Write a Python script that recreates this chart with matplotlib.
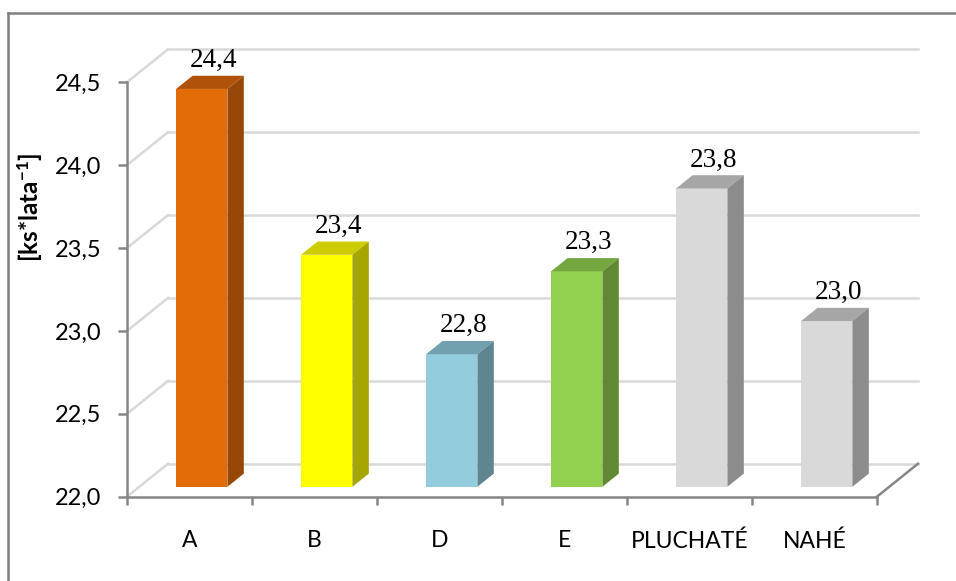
import matplotlib
matplotlib.use('Agg')
import matplotlib.pyplot as plt
from matplotlib.patches import Polygon
from matplotlib.lines import Line2D

plt.rcParams['font.family'] = ['Lato', 'DejaVu Sans']
plt.rcParams['mathtext.fontset'] = 'custom'
plt.rcParams['mathtext.bf'] = 'Lato:bold'
plt.rcParams['mathtext.rm'] = 'Lato'
plt.rcParams['mathtext.default'] = 'bf'

# data
categories = ['A', 'B', 'D', 'E', 'PLUCHATÉ', 'NAHÉ']
values = [24.4, 23.4, 22.8, 23.3, 23.8, 23.0]
front_colors = ['#E36C09', '#FFFF00', '#93CDDD', '#92D050', '#D9D9D9', '#D9D9D9']
top_colors = ['#B05209', '#CCCC00', '#71A0AE', '#74A73F', '#A6A6A6', '#A6A6A6']
side_colors = ['#984806', '#A6A600', '#5F8591', '#5F8A33', '#8C8C8C', '#8C8C8C']
y_ticks = [22.0, 22.5, 23.0, 23.5, 24.0, 24.5]
y_tick_labels = ['22,0', '22,5', '23,0', '23,5', '24,0', '24,5']
base = 22.0

# oblique "3D" depth, in data units (x: categories, y: value)
wall_dx, wall_dy = 0.3285, 0.199
bar_w = 0.41
front_dx, front_dy = 0.3 * wall_dx, 0.3 * wall_dy
depth_dx, depth_dy = 0.4 * wall_dx, 0.4 * wall_dy

grid_color = '#D9D9D9'
axis_color = '#868686'

fig = plt.figure(figsize=(9.56, 5.81), dpi=100)
ax = fig.add_axes([0.1328, 0.1451, 0.7845, 0.7133])
n = len(categories)
ax.set_xlim(-0.5, n - 0.5)
ax.set_ylim(base, 24.5)

# side wall and back wall gridlines
for t in y_ticks:
    ax.plot([-0.5, -0.5 + wall_dx], [t, t + wall_dy], color=grid_color,
            lw=1.8, clip_on=False, zorder=1)
    ax.plot([-0.5 + wall_dx, n - 0.5 + wall_dx], [t + wall_dy, t + wall_dy],
            color=grid_color, lw=1.8, clip_on=False, zorder=1)
# floor right edge
ax.plot([n - 0.5, n - 0.5 + wall_dx], [base, base + wall_dy], color=axis_color,
        lw=1.8, clip_on=False, zorder=2)

# bars: front face, top face, side face
for i, v in enumerate(values):
    x0 = i + front_dx - bar_w / 2
    y0 = base + front_dy
    top = v + front_dy
    ax.bar(i + front_dx, v - base, bottom=y0, width=bar_w,
           color=front_colors[i], zorder=3, clip_on=False)
    ax.add_patch(Polygon([(x0, top), (x0 + bar_w, top),
                          (x0 + bar_w + depth_dx, top + depth_dy),
                          (x0 + depth_dx, top + depth_dy)],
                         closed=True, facecolor=top_colors[i], zorder=3,
                         clip_on=False))
    ax.add_patch(Polygon([(x0 + bar_w, y0), (x0 + bar_w + depth_dx, y0 + depth_dy),
                          (x0 + bar_w + depth_dx, top + depth_dy),
                          (x0 + bar_w, top)],
                         closed=True, facecolor=side_colors[i], zorder=3,
                         clip_on=False))
    ax.annotate(f'{v:.1f}'.replace('.', ','),
                (i + front_dx + depth_dx / 2 + 0.03, top + depth_dy),
                xytext=(0, 2), textcoords='offset points',
                ha='center', va='bottom', fontsize=19.5,
                family='Liberation Serif', zorder=4, annotation_clip=False)

# axes styling
for side in ['top', 'right']:
    ax.spines[side].set_visible(False)
for side in ['left', 'bottom']:
    ax.spines[side].set_color(axis_color)
    ax.spines[side].set_linewidth(1.8)
    ax.spines[side].set_zorder(5)

ax.set_yticks(y_ticks)
ax.set_yticklabels(y_tick_labels)
ax.tick_params(axis='y', direction='out', length=6.5, width=1.8,
               color=axis_color, labelsize=17, pad=12)

ax.set_xticks([k - 0.5 for k in range(n + 1)])
ax.set_xticklabels([])
ax.set_xticks(range(n), minor=True)
ax.set_xticklabels(categories, minor=True)
ax.tick_params(axis='x', which='major', direction='out', length=6,
               width=1.8, color=axis_color)
ax.tick_params(axis='x', which='minor', length=0, labelsize=16.5, pad=24)

ax.text(-0.1295, 0.699, '[ks*lata$^{-1}$]', transform=ax.transAxes,
        rotation=90, ha='center', va='center', fontsize=17.5,
        fontweight='bold')

# outer frame
fig.add_artist(Line2D([8 / 956, 8 / 956], [0, 1 - 13 / 581],
                      transform=fig.transFigure, color='#7F7F7F', lw=1.8))
fig.add_artist(Line2D([8 / 956, 1], [1 - 13 / 581, 1 - 13 / 581],
                      transform=fig.transFigure, color='#7F7F7F', lw=1.8))

fig.savefig('out.png', dpi=100)
